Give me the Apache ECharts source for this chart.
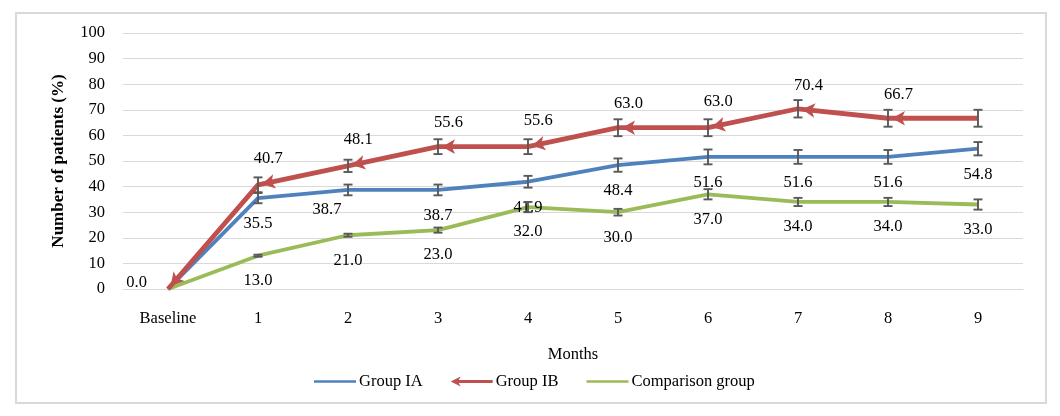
<!DOCTYPE html>
<html><head><meta charset="utf-8">
<script src="https://cdn.jsdelivr.net/npm/echarts@6/dist/echarts.min.js"></script>
<style>html,body{margin:0;padding:0;background:#fff}#box{position:absolute;left:15px;top:12px;width:1032px;height:392px;border:2px solid #d9d9d9;box-sizing:border-box}#c{width:1060px;height:416px;position:absolute;left:0;top:0}</style>
</head><body><div id="box"></div><div id="c"></div>
<script>
const categories = ['Baseline','1','2','3','4','5','6','7','8','9'];
const groupIA = [0, 35.5, 38.7, 38.7, 41.9, 48.4, 51.6, 51.6, 51.6, 54.8];
const groupIB = [0, 40.7, 48.1, 55.6, 55.6, 63.0, 63.0, 70.4, 66.7, 66.7];
const comparison = [0, 13.0, 21.0, 23.0, 32.0, 30.0, 37.0, 34.0, 34.0, 33.0];
const errIA = [0, 2.0, 2.1, 2.1, 2.3, 2.6, 2.9, 2.7, 2.7, 2.6];
const errIB = [0, 2.9, 2.4, 2.9, 2.9, 3.3, 3.3, 3.4, 3.3, 3.3];
const errCmp = [0, 0.4, 0.6, 1.0, 2.0, 1.3, 2.0, 1.6, 1.6, 2.0];

const FONT = '"Liberation Serif", "Times New Roman", serif';
const FS = 16.5;
const C_IA = '#4F81BD', C_IB = '#C0504D', C_CMP = '#9BBB59';
const chart = echarts.init(document.getElementById('c'));

function errSeries(vals, errs, name) {
  const data = vals.map((v, i) => [i, v, errs[i]]).filter(d => d[2] > 0);
  return {
    type: 'custom', name: name, z: 5, silent: true,
    data: data,
    renderItem: function (params, api) {
      const i = api.value(0), v = api.value(1), e = api.value(2);
      const top = api.coord([i, v + e]);
      const bot = api.coord([i, v - e]);
      const hw = 4.5;
      const st = { stroke: '#595959', lineWidth: 1.9 };
      return { type: 'group', children: [
        { type: 'line', shape: { x1: top[0], y1: top[1], x2: bot[0], y2: bot[1] }, style: st },
        { type: 'line', shape: { x1: top[0]-hw, y1: top[1], x2: top[0]+hw, y2: top[1] }, style: st },
        { type: 'line', shape: { x1: bot[0]-hw, y1: bot[1], x2: bot[0]+hw, y2: bot[1] }, style: st }
      ]};
    }
  };
}

function labelData(vals, showBaseline, special) {
  return vals.map((v, i) => {
    if (i === 0) {
      return showBaseline
        ? { value: v, label: { show: true, position: 'left', distance: 21, offset: [0, -6] } }
        : { value: v, label: { show: false } };
    }
    if (special && special[i]) return { value: v, label: { offset: special[i] } };
    return { value: v };
  });
}

const labelStyle = { show: true, fontFamily: FONT, fontSize: FS, color: '#000', position: 'inside', formatter: p => Number(p.value).toFixed(1) };

function buildOption(ibData) {
  return {
    animation: false,
    grid: { left: 123, right: 37, top: 33, bottom: 127 },
    legend: {
      top: 368, left: 309, itemWidth: 42, itemHeight: 10, itemGap: 28,
      textStyle: { fontFamily: FONT, fontSize: FS, color: '#000', padding: [0, 0, 0, -2] },
      data: [
        { name: 'Group IA', icon: 'path://M0,4 L42,4 L42,6.6 L0,6.6 Z' },
        { name: 'Group IB', icon: 'path://M0,5 L10,0 L8,3.6 L42,3.6 L42,6.4 L8,6.4 L10,10 Z' },
        { name: 'Comparison group', icon: 'path://M0,4 L42,4 L42,6.6 L0,6.6 Z' }
      ]
    },
    xAxis: {
      type: 'category', data: categories, boundaryGap: true,
      name: 'Months', nameLocation: 'middle', nameGap: 57,
      nameTextStyle: { fontFamily: FONT, fontSize: FS, color: '#000' },
      axisLine: { lineStyle: { color: '#d9d9d9' } }, axisTick: { show: false },
      axisLabel: { fontFamily: FONT, fontSize: FS, color: '#000', margin: 21 }
    },
    yAxis: {
      type: 'value', min: 0, max: 100, interval: 10,
      name: 'Number of patients (%)', nameLocation: 'middle', nameGap: 56,
      nameTextStyle: { fontFamily: FONT, fontSize: 17, fontWeight: 'bold', color: '#000' },
      axisLine: { show: false }, axisTick: { show: false },
      splitLine: { lineStyle: { color: '#d9d9d9', width: 1 } },
      axisLabel: { fontFamily: FONT, fontSize: FS, color: '#000', margin: 18 }
    },
    series: [
      { name: 'Group IA', type: 'line', data: labelData(groupIA, true, { 2: [-21, 20] }), color: C_IA, z: 3,
        symbol: 'circle', symbolSize: 0.1, lineStyle: { width: 3.8, color: C_IA },
        label: Object.assign({}, labelStyle, { offset: [0, 26] }) },
      { name: 'Group IB', type: 'line', data: ibData, color: C_IB, z: 4,
        symbol: 'arrow', symbolSize: [11, 13], itemStyle: { color: C_IB }, lineStyle: { width: 4.8, color: C_IB },
        label: Object.assign({}, labelStyle, { offset: [0, -24] }) },
      { name: 'Comparison group', type: 'line', data: labelData(comparison, false), color: C_CMP, z: 3,
        symbol: 'circle', symbolSize: 0.1, lineStyle: { width: 3.8, color: C_CMP },
        label: Object.assign({}, labelStyle, { offset: [0, 25] }) },
      errSeries(groupIA, errIA, 'errIA'),
      errSeries(groupIB, errIB, 'errIB'),
      errSeries(comparison, errCmp, 'errCmp')
    ]
  };
}

const ibInit = groupIB.map((v, i) => ({ value: v, label: { show: i > 0 } }));
chart.setOption(buildOption(ibInit));

// rotate arrow heads to point along each segment (from next point to this one)
const ibData = groupIB.map((v, i) => {
  const item = { value: v, label: { show: i > 0 } };
  if (i === groupIB.length - 1) { item.symbol = 'none'; return item; }
  const p = chart.convertToPixel({ seriesIndex: 1 }, [i, v]);
  const q = chart.convertToPixel({ seriesIndex: 1 }, [i + 1, groupIB[i + 1]]);
  const dx = p[0] - q[0], dy = p[1] - q[1];
  const len = Math.hypot(dx, dy);
  item.symbolRotate = Math.atan2(-dy, dx) * 180 / Math.PI - 90;
  item.symbolOffset = [-dx / len * 4, -dy / len * 4];
  return item;
});
chart.setOption(buildOption(ibData));
</script></body></html>
